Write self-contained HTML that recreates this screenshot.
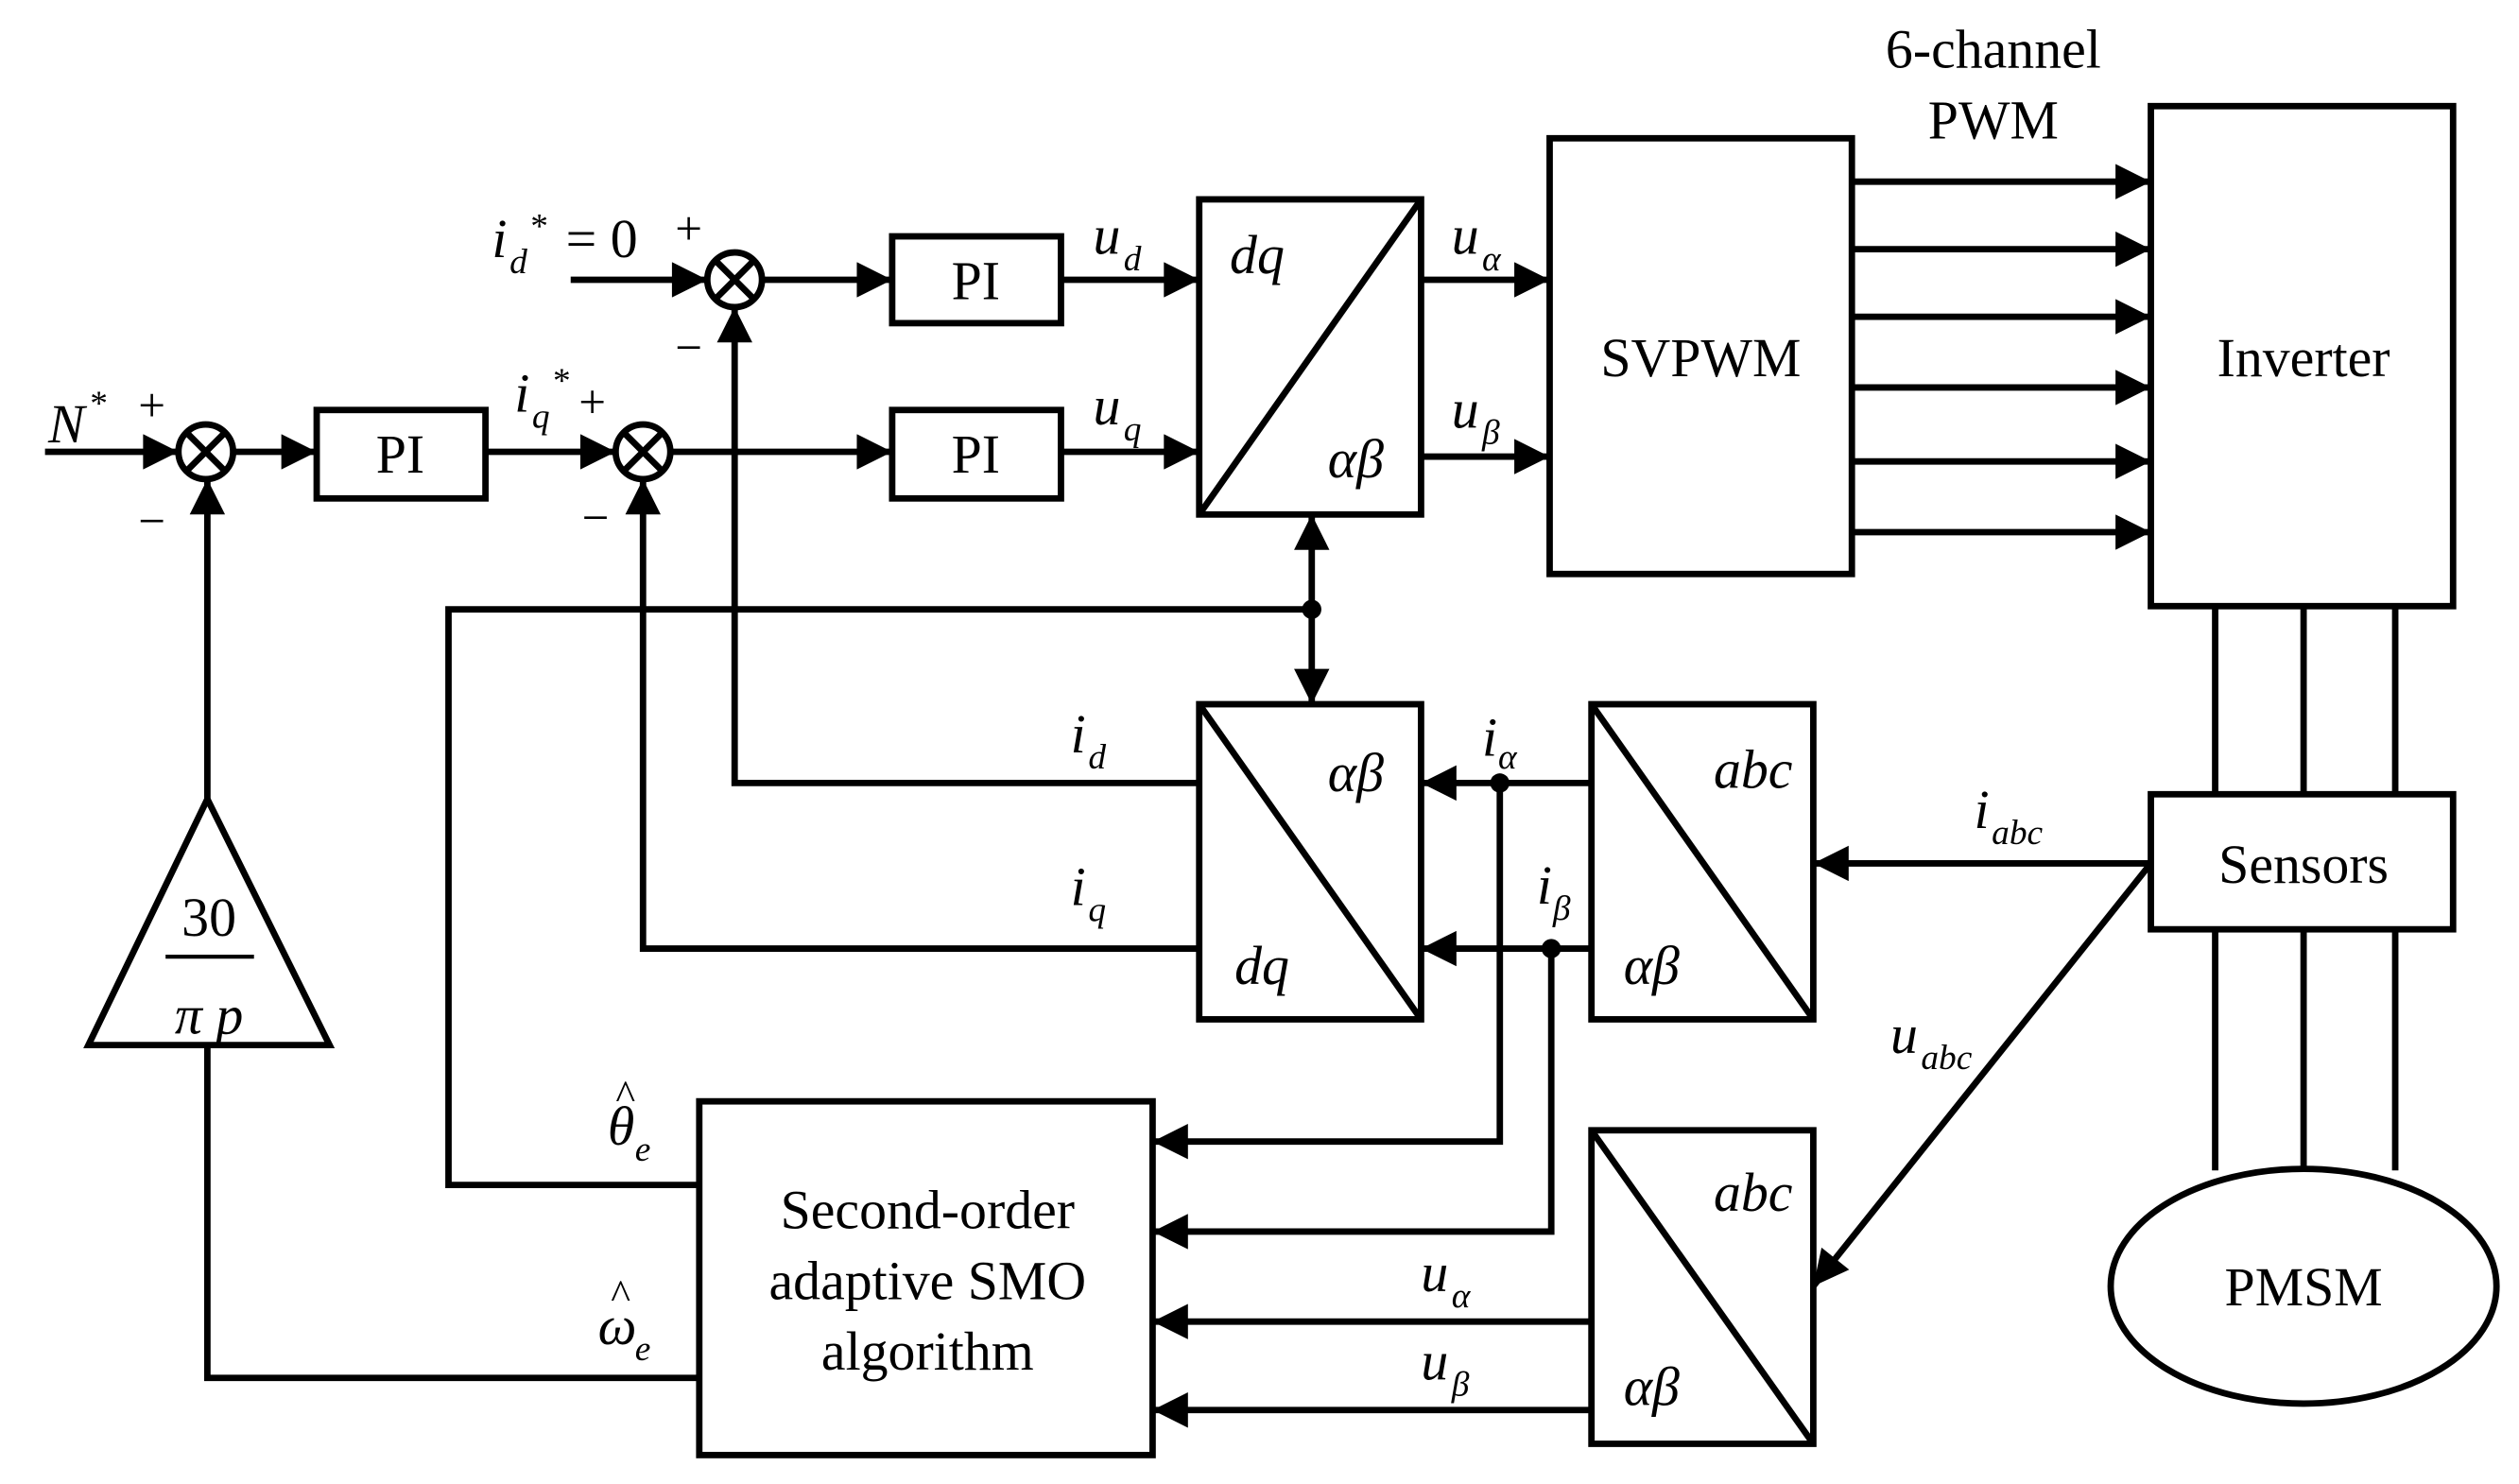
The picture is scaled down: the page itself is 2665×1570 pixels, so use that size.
<!DOCTYPE html>
<html><head><meta charset="utf-8"><style>
html,body{margin:0;padding:0;background:#fff}
svg{display:block}
text{font-family:"Liberation Serif",serif;fill:#000}
.v{font-style:italic}
</style></head><body>
<svg width="2665" height="1570" viewBox="0 0 1567 923" preserveAspectRatio="none" xmlns="http://www.w3.org/2000/svg">
<defs>
<marker id="A" viewBox="0 0 10 10" refX="10" refY="5" markerWidth="26" markerHeight="22" orient="auto-start-reverse" markerUnits="userSpaceOnUse"><path d="M0,0 L10,5 L0,10z"/></marker></defs>
<g stroke="#000" stroke-width="4" fill="none">
<circle cx="128" cy="281" r="17"/><path d="M116,269L140,293M140,269L116,293"/>
<circle cx="400" cy="281" r="17"/><path d="M388,269L412,293M412,269L388,293"/>
<circle cx="457" cy="174" r="17"/><path d="M445,162L469,186M469,162L445,186"/>
<rect x="197" y="255" width="105" height="55"/>
<rect x="555" y="255" width="105" height="55"/>
<rect x="555" y="147" width="105" height="54"/>
<rect x="746" y="124" width="138" height="196"/><path d="M746,320L884,124"/>
<rect x="964" y="86" width="188" height="271"/>
<rect x="1338" y="66" width="188" height="311"/>
<rect x="1338" y="494" width="188" height="84"/>
<ellipse cx="1433" cy="800" rx="120" ry="73"/>
<rect x="746" y="438" width="138" height="196"/><path d="M746,438L884,634"/>
<rect x="990" y="438" width="138" height="196"/><path d="M990,438L1128,634"/>
<rect x="990" y="703" width="138" height="195"/><path d="M990,703L1128,898"/>
<rect x="435" y="685" width="282" height="220"/>
<path d="M129,497L205,650L55,650Z"/>
<path d="M1378,377V494M1433,377V494M1490,377V494M1378,578V728M1433,578V727M1490,578V728"/>
<g marker-end="url(#A)">
<path d="M28,281H111"/><path d="M145,281H197"/><path d="M302,281H383"/><path d="M417,281H555"/>
<path d="M355,174H440"/><path d="M474,174H555"/><path d="M660,174H746"/><path d="M660,281H746"/>
<path d="M884,174H964"/><path d="M884,284H964"/>
<path d="M1152,113H1338"/><path d="M1152,155H1338"/><path d="M1152,197H1338"/><path d="M1152,241H1338"/><path d="M1152,287H1338"/><path d="M1152,331H1338"/>
<path d="M1338,537H1128"/><path d="M1338,537L1128,800"/>
<path d="M990,487H884"/><path d="M990,590H884"/>
<path d="M933,487V710H717"/><path d="M965,590V766H717"/>
<path d="M990,822H717"/><path d="M990,877H717"/>
<path d="M746,487H457V191"/><path d="M746,590H400V298"/>
<path d="M129,497V298"/>
<path d="M816,379V320" /><path d="M816,379V438"/>
</g>
<path d="M435,737H279V379H816"/>
<path d="M435,857H129V650"/>
<path d="M103,595H158" stroke-width="2.5"/>
</g>
<g fill="#000"><circle cx="816" cy="379" r="6"/><circle cx="933" cy="487" r="6"/><circle cx="965" cy="590" r="6"/></g>
<g font-size="34">
<text x="30" y="275" class="v">N</text><text x="56" y="258" font-size="22">*</text>
<text x="86" y="262" font-size="30">+</text><text x="86" y="334" font-size="30">−</text>
<text x="360" y="260" font-size="30">+</text><text x="362" y="332" font-size="30">−</text>
<text x="420" y="152" font-size="30">+</text><text x="420" y="226" font-size="30">−</text>
<text x="320" y="256" class="v">i</text><text x="331" y="266" class="v" font-size="22">q</text><text x="344" y="244" font-size="22">*</text>
<text x="306" y="160" class="v">i</text><text x="317" y="170" class="v" font-size="22">d</text><text x="330" y="148" font-size="22">*</text><text x="352" y="160">= 0</text>
<text x="249" y="294" text-anchor="middle">PI</text><text x="607" y="294" text-anchor="middle">PI</text><text x="607" y="186" text-anchor="middle">PI</text>
<text x="680" y="158" class="v">u</text><text x="699" y="168" class="v" font-size="22">d</text>
<text x="680" y="264" class="v">u</text><text x="699" y="274" class="v" font-size="22">q</text>
<text x="765" y="170" class="v">dq</text><text x="826" y="297" class="v">αβ</text>
<text x="903" y="158" class="v">u</text><text x="922" y="168" class="v" font-size="22">α</text>
<text x="903" y="266" class="v">u</text><text x="922" y="276" class="v" font-size="22">β</text>
<text x="1058" y="234" text-anchor="middle">SVPWM</text>
<text x="1433" y="234" text-anchor="middle">Inverter</text>
<text x="1433" y="549" text-anchor="middle">Sensors</text>
<text x="1433" y="812" text-anchor="middle">PMSM</text>
<text x="1240" y="42" text-anchor="middle">6-channel</text><text x="1240" y="86" text-anchor="middle">PWM</text>
<text x="826" y="492" class="v">αβ</text><text x="768" y="612" class="v">dq</text>
<text x="1066" y="490" class="v">abc</text><text x="1010" y="612" class="v">αβ</text>
<text x="1066" y="753" class="v">abc</text><text x="1010" y="874" class="v">αβ</text>
<text x="922" y="470" class="v">i</text><text x="932" y="478" class="v" font-size="22">α</text>
<text x="956" y="562" class="v">i</text><text x="966" y="572" class="v" font-size="22">β</text>
<text x="1228" y="515" class="v">i</text><text x="1239" y="525" class="v" font-size="22">abc</text>
<text x="1176" y="655" class="v">u</text><text x="1195" y="665" class="v" font-size="22">abc</text>
<text x="666" y="468" class="v">i</text><text x="677" y="478" class="v" font-size="22">d</text>
<text x="666" y="563" class="v">i</text><text x="677" y="573" class="v" font-size="22">q</text>
<text x="884" y="803" class="v">u</text><text x="903" y="813" class="v" font-size="22">α</text>
<text x="884" y="858" class="v">u</text><text x="903" y="868" class="v" font-size="22">β</text>
<text x="378" y="712" class="v">θ</text><text x="383" y="690" font-size="26">^</text><text x="395" y="722" class="v" font-size="22">e</text>
<text x="372" y="836" class="v">ω</text><text x="380" y="814" font-size="26">^</text><text x="395" y="846" class="v" font-size="22">e</text>
<text x="577" y="764" text-anchor="middle">Second-order</text>
<text x="577" y="808" text-anchor="middle">adaptive SMO</text>
<text x="577" y="852" text-anchor="middle">algorithm</text>
<text x="130" y="582" text-anchor="middle">30</text>
<text x="130" y="643" text-anchor="middle" class="v">π p</text>
</g>
</svg>
</body></html>
